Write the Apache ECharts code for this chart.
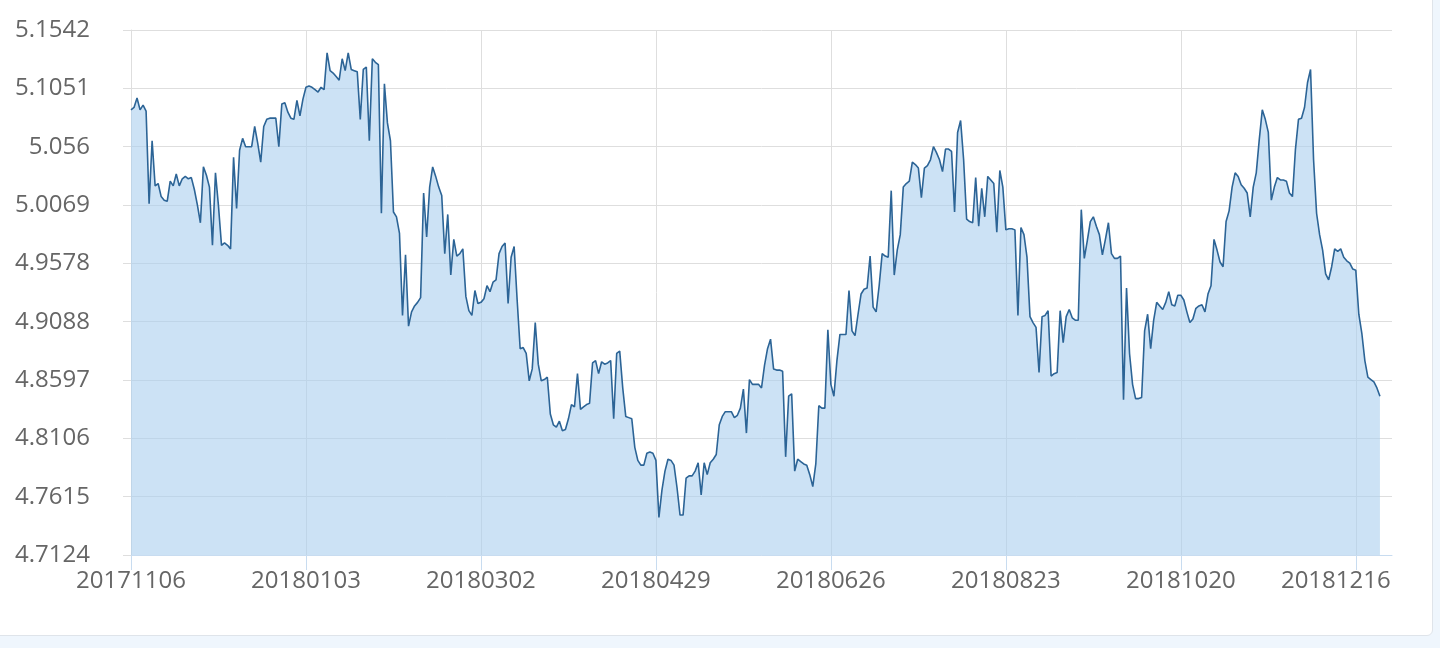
<!DOCTYPE html>
<html>
<head>
<meta charset="utf-8">
<script src="https://cdn.jsdelivr.net/npm/echarts@6/dist/echarts.min.js"></script>
<style>
  html, body { margin: 0; padding: 0; background: #eff6fd; }
  #card { position: absolute; left: -8px; top: -8px; width: 1441px; height: 644px; box-sizing: border-box;
          background: #ffffff; border: 1px solid #dfe4ea; border-radius: 6px; }
  #chart { position: absolute; left: 0; top: 0; width: 1440px; height: 648px; }
</style>
</head>
<body>
<div id="card"></div>
<div id="chart"></div>
<script>
// ---- categories (daily dates; the source list repeats one date, so 20181216 lands on a labelled slot) ----
function buildDates(start, end, repeated) {
  var out = [];
  var d = new Date(Date.UTC(start[0], start[1] - 1, start[2]));
  var e = new Date(Date.UTC(end[0], end[1] - 1, end[2]));
  while (d <= e) {
    var s = d.getUTCFullYear() + String(d.getUTCMonth() + 1).padStart(2, '0') + String(d.getUTCDate()).padStart(2, '0');
    out.push(s);
    if (s === repeated) out.push(s);
    d = new Date(d.getTime() + 86400000);
  }
  return out;
}
const categories = buildDates([2017, 11, 6], [2018, 12, 28], '20181104');
// the last visible date label is pushed inward so it stays inside the plot width
const justifiedLabel = '20181216';

// ---- y-axis tick labels ----
const yTicks = [4.7124, 4.7615, 4.8106, 4.8597, 4.9088, 4.9578, 5.0069, 5.056, 5.1051, 5.1542];

// ---- series values ----
const values1 = [5.087,5.089,5.097,5.087,5.091,5.086,5.008,5.061,5.023,5.025,5.014,5.011,5.010,5.027,5.023,5.033,5.023,5.029,5.031,5.029,
  5.030,5.020,5.007,4.992,5.039,5.032,5.022,4.973,5.034,5.006,4.973,4.975,4.973,4.970,5.047,5.004,5.053,5.063,5.056,5.056,
  5.056,5.073,5.059,5.043,5.073,5.079,5.080,5.080,5.080,5.056,5.092,5.093,5.085,5.080,5.079,5.095,5.082,5.096];
const values2 = [5.106,5.107,5.106,5.104,5.102,5.106,5.104,5.135,5.120,5.118,5.115,5.112,5.130,5.120,5.135,5.121,5.120,5.119,5.079,5.121,
  5.123,5.061,5.130,5.127,5.125,5.000,5.109,5.076,5.061,5.001,4.997,4.983,4.914,4.965,4.905,4.917,4.922,4.925,4.929,5.017,
  4.980,5.022,5.039,5.031,5.022,5.015,4.966,4.999,4.948,4.978,4.964,4.966,4.970,4.930,4.918,4.914,4.935,4.924];
const values3 = [4.925,4.928,4.939,4.934,4.942,4.944,4.966,4.972,4.975,4.924,4.963,4.972,4.927,4.886,4.887,4.882,4.859,4.869,4.908,4.873,
  4.859,4.860,4.862,4.831,4.822,4.820,4.825,4.817,4.818,4.827,4.839,4.837,4.865,4.835,4.837,4.839,4.840,4.874,4.876,4.865,
  4.875,4.873,4.874,4.876,4.827,4.882,4.884,4.853,4.829,4.828,4.827,4.803,4.792,4.788,4.788,4.798,4.799,4.798];
const values4 = [4.792,4.744,4.767,4.783,4.793,4.792,4.788,4.769,4.746,4.746,4.777,4.779,4.779,4.783,4.790,4.763,4.790,4.780,4.790,4.793,
  4.797,4.822,4.829,4.833,4.833,4.833,4.828,4.830,4.836,4.852,4.815,4.860,4.856,4.856,4.856,4.853,4.872,4.886,4.894,4.869,
  4.868,4.868,4.867,4.795,4.846,4.848,4.783,4.793,4.791,4.789,4.788,4.780,4.770,4.789,4.838,4.836,4.836,4.902];
const values5 = [4.856,4.846,4.876,4.898,4.898,4.898,4.935,4.901,4.897,4.915,4.932,4.936,4.937,4.964,4.921,4.917,4.939,4.966,4.964,4.963,
  5.019,4.948,4.969,4.982,5.022,5.025,5.027,5.043,5.041,5.038,5.013,5.038,5.040,5.045,5.056,5.051,5.045,5.035,5.054,5.054,
  5.052,5.001,5.068,5.078,5.045,4.995,4.993,4.992,5.030,4.989,5.021,4.997,5.031,5.028,5.025,4.984,5.036,5.022];
const values6 = [4.986,4.987,4.987,4.986,4.914,4.988,4.982,4.963,4.913,4.908,4.904,4.866,4.913,4.914,4.918,4.863,4.865,4.866,4.918,4.891,
  4.913,4.919,4.912,4.910,4.910,5.003,4.962,4.977,4.993,4.997,4.989,4.982,4.965,4.978,4.992,4.966,4.962,4.962,4.964,4.843,
  4.937,4.882,4.856,4.844,4.844,4.845,4.901,4.915,4.886,4.910,4.925,4.922,4.919,4.925,4.934,4.923,4.922,4.931];
const values7 = [4.931,4.927,4.917,4.908,4.911,4.920,4.922,4.923,4.917,4.932,4.939,4.978,4.969,4.959,4.955,4.993,5.002,5.022,5.034,5.031,
  5.024,5.021,5.017,4.997,5.022,5.034,5.062,5.087,5.079,5.068,5.011,5.022,5.030,5.028,5.028,5.027,5.017,5.014,5.054,5.079,
  5.080,5.089,5.110,5.121,5.045,5.000,4.982,4.969,4.949,4.944,4.955,4.970,4.968,4.970,4.963,4.960,4.958,4.953];
const values8 = [4.952,4.915,4.899,4.876,4.862,4.860,4.858,4.853,4.846];
const values = [].concat(values1, values2, values3, values4, values5, values6, values7, values8);

const labelFont = "'Open Sans', 'Noto Sans', sans-serif";
const yMin = yTicks[0], yMax = yTicks[yTicks.length - 1];
const categoryData = categories.map(function (c) {
  return c === justifiedLabel ? { value: c, textStyle: { padding: [0, 40, 0, 0] } } : c;
});

const chart = echarts.init(document.getElementById('chart'), null, { renderer: 'canvas' });
chart.setOption({
  animation: false,
  backgroundColor: 'transparent',
  grid: { left: 131, right: 48, top: 30, bottom: 93, containLabel: false },
  xAxis: {
    type: 'category',
    data: categoryData,
    boundaryGap: false,
    axisLine: { show: true, lineStyle: { color: '#c8dcf0', width: 1 } },
    axisTick: { show: true, interval: 57, length: 15, lineStyle: { color: '#c8dcf0' } },
    axisLabel: { interval: 57, color: '#666', fontSize: 24, fontFamily: labelFont, margin: 14 },
    splitLine: { show: true, interval: 57, lineStyle: { color: '#dedede', width: 1 } }
  },
  yAxis: {
    type: 'value',
    min: yMin,
    max: yMax,
    interval: (yMax - yMin) / (yTicks.length - 1),
    axisLine: { show: true, lineStyle: { color: '#dedede' } },
    axisTick: { show: true, length: 8, lineStyle: { color: '#dedede' } },
    axisLabel: {
      color: '#666', fontSize: 24, fontFamily: labelFont, margin: 41,
      formatter: function (v) { return String(parseFloat(v.toFixed(4))); }
    },
    splitLine: { show: true, lineStyle: { color: '#dedede', width: 1 } }
  },
  series: [{
    type: 'line',
    data: values,
    symbol: 'none',
    smooth: false,
    lineStyle: { color: '#2c6496', width: 1.6 },
    itemStyle: { color: '#2c6496' },
    areaStyle: { color: 'rgba(170,206,238,0.6)', opacity: 1 }
  }]
});
</script>
</body>
</html>
